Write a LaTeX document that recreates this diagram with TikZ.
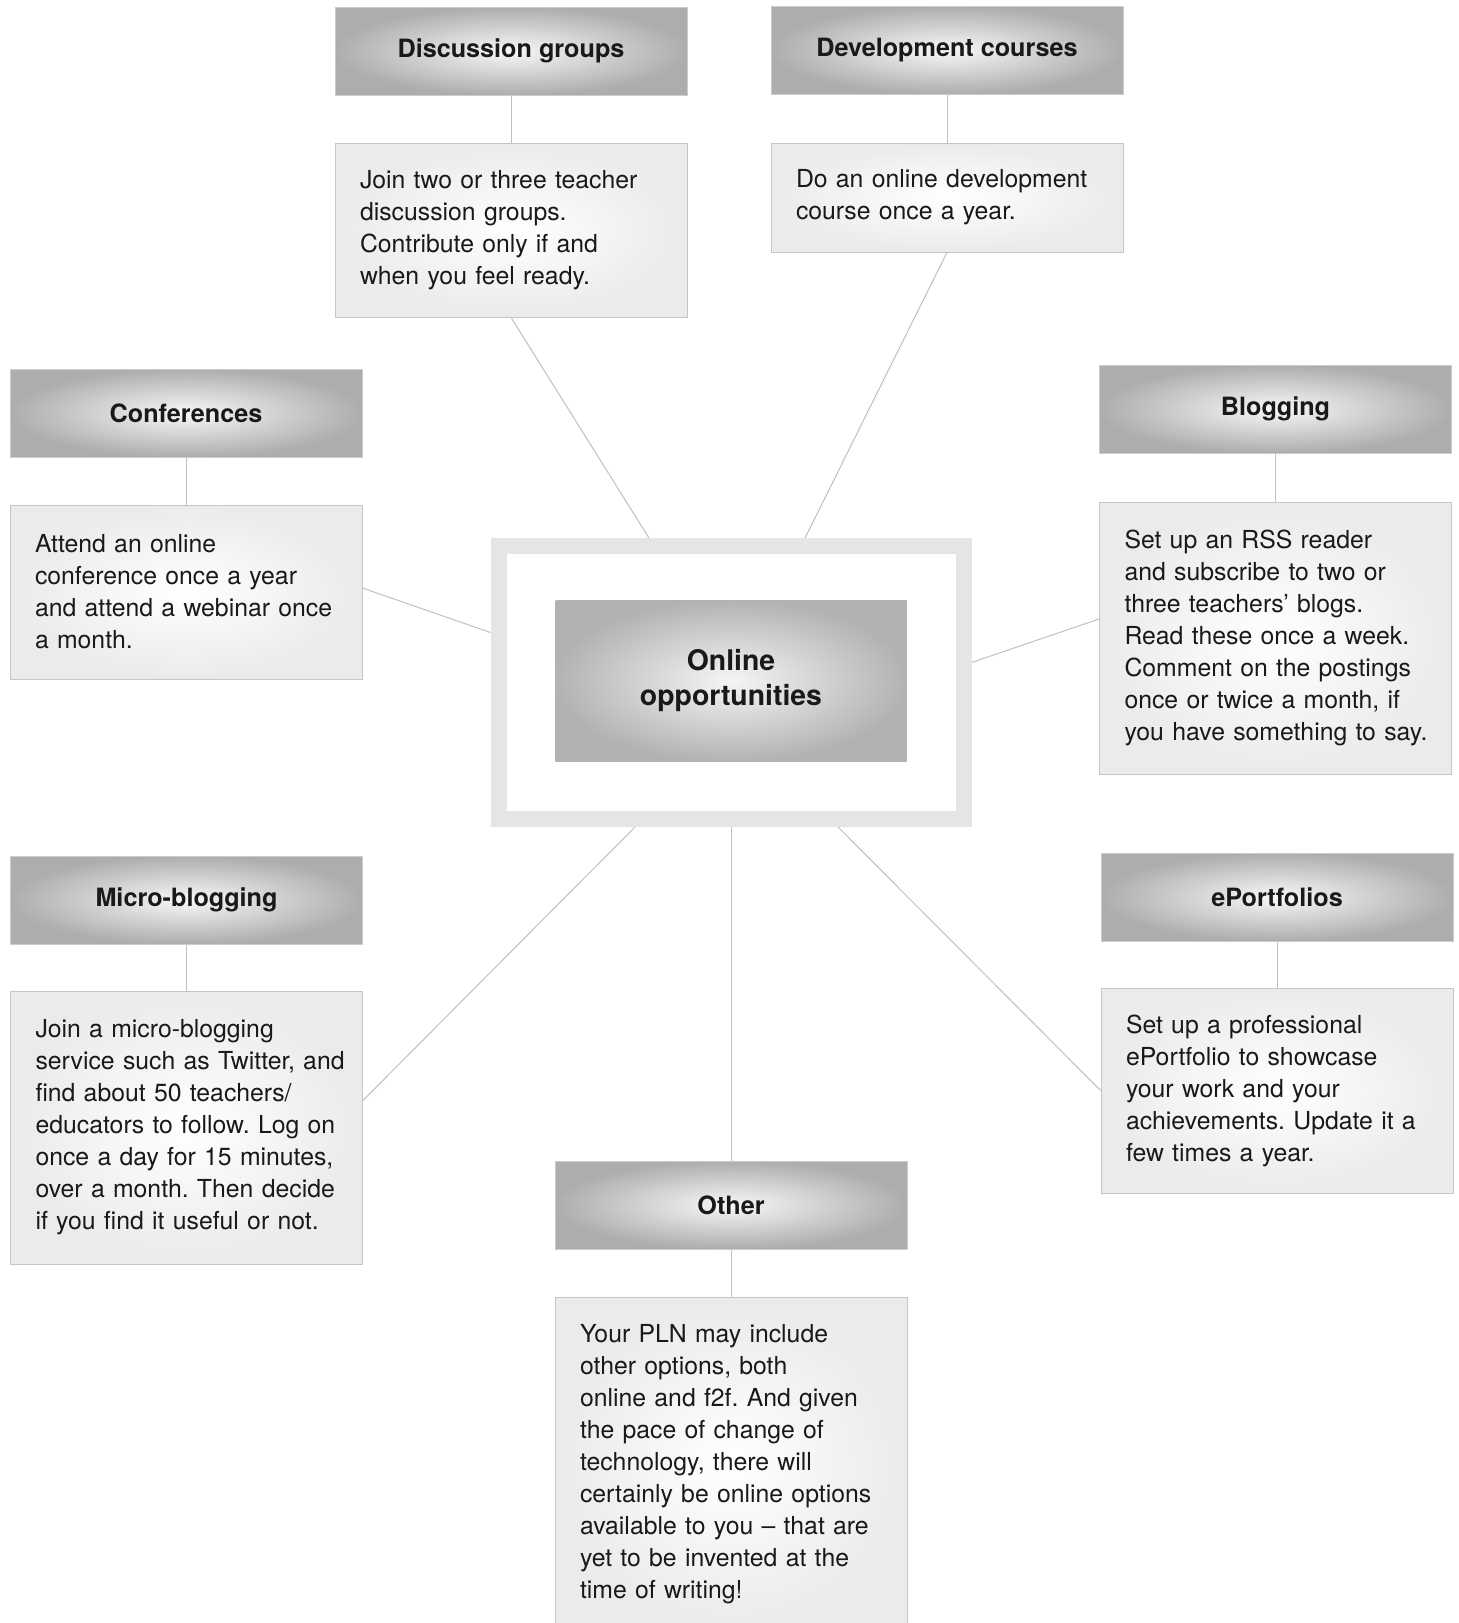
\documentclass[tikz,border=0pt]{standalone}
\usepackage{fontspec}
\setmainfont{TeX Gyre Heros}
\usetikzlibrary{calc,backgrounds}
\frenchspacing

\begin{document}
\begin{tikzpicture}[x=0.5pt, y=-0.5pt,
  head/.style={rectangle, draw=gray!40, line width=0.4pt, shading=radial,
    inner color=gray!6, outer color=gray!64, minimum width=176pt,
    minimum height=44pt, font=\fontsize{12.6}{15}\selectfont\bfseries, text=black!90},
  txt/.style={rectangle, draw=gray!45, line width=0.4pt, shading=radial,
    inner color=white, outer color=gray!16, minimum width=176pt,
    text width=151pt, inner xsep=12.5pt, inner ysep=0pt,
    execute at begin node={\rightskip=0pt minus 12pt\relax},
    font=\fontsize{12.4}{16}\selectfont, text=black!90},
  link/.style={draw=gray!50, line width=0.5pt}]

  \useasboundingbox (0,0) rectangle (1459,1623);

  % Centre
  \node[rectangle, draw=gray!20, line width=8pt, fill=white,
    minimum width=232.5pt, minimum height=136.5pt] (frame) at (731,682.5) {};
  \node[rectangle, shading=radial, inner color=gray!8, outer color=gray!60,
    minimum width=175.5pt, minimum height=80.5pt, align=center, text=black!90,
    font=\fontsize{14.2}{17.5}\selectfont\bfseries] (core) at (731,681) {Online\\opportunities};

  % Top row
  \node[head] (dischead) at (511,51) {Discussion groups};
  \node[txt, minimum height=87pt] (distext) at (511,230)
    {Join two or three teacher\\discussion groups.\\Contribute only if and\\when you feel ready.};

  \node[head] (devhead) at (947,50) {Development courses};
  \node[txt, minimum height=54.5pt] (devtext) at (947,197.5)
    {Do an online development\\course once a year.};

  % Left column
  \node[head] (confhead) at (186,413) {Conferences};
  \node[txt, minimum height=87pt] (conftext) at (186,592)
    {Attend an online\\conference once a year\\and attend a webinar once\\a month.};

  \node[head] (microhead) at (186.5,900) {Micro-blogging};
  \node[txt, minimum height=136.5pt] (microtext) at (186.5,1127.5)
    {Join a micro-blogging\\service such as Twitter, and\\find about 50 teachers/\\educators to follow. Log on\\once a day for 15 minutes,\\over a month. Then decide\\if you find it useful or not.};

  % Right column
  \node[head] (bloghead) at (1275.5,409) {Blogging};
  \node[txt, minimum height=136pt] (blogtext) at (1275.5,638)
    {Set up an RSS reader\\and subscribe to two or\\three teachers' blogs.\\Read these once a week.\\Comment on the postings\\once or twice a month, if\\you have something to say.};

  \node[head] (epohead) at (1277,897) {ePortfolios};
  \node[txt, minimum height=102.5pt] (epotext) at (1277,1090.5)
    {Set up a professional\\ePortfolio to showcase\\your work and your\\achievements. Update it a\\few times a year.};

  % Bottom
  \node[head] (otherhead) at (731,1205) {Other};
  \node[txt, minimum height=167.5pt] (othertext) at (731,1464.5)
    {Your PLN may include\\other options, both\\online and f2f. And given\\the pace of change of\\technology, there will\\certainly be online options\\available to you -- that are\\yet to be invented at the\\time of writing!};

  % Connectors
  \begin{scope}[on background layer]
    \draw[link] (dischead) -- (distext);
    \draw[link] (devhead) -- (devtext);
    \draw[link] (confhead) -- (conftext);
    \draw[link] (microhead) -- (microtext);
    \draw[link] (bloghead) -- (blogtext);
    \draw[link] (epohead) -- (epotext);
    \draw[link] (otherhead) -- (othertext);

    \draw[link] ($(frame.north)+(-82,0)$) -- (distext.south);
    \draw[link] ($(frame.north)+(74,0)$) -- (devtext.south);
    \draw[link] ($(frame.west)+(0,-50)$) -- ($(conftext.east)+(0,-4)$);
    \draw[link] ($(frame.east)+(0,-20)$) -- ($(blogtext.west)+(0,-19)$);
    \draw[link] ($(frame.south)+(-96,0)$) -- ($(microtext.east)+(0,-27)$);
    \draw[link] ($(frame.south)+(107,0)$) -- (epotext.west);
    \draw[link] (frame.south) -- (otherhead.north);
  \end{scope}
\end{tikzpicture}
\end{document}
